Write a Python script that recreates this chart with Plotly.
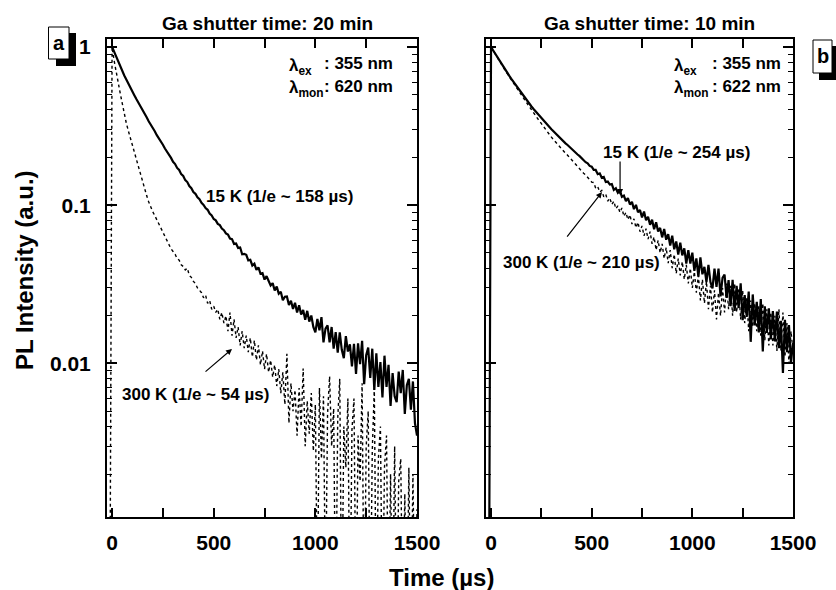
import plotly.graph_objects as go

W, H = 836, 590
FONT = "Arial, Liberation Sans, sans-serif"

# time grid (µs)
time_us = list(range(-10, 1510, 10))

# Panel a (Ga shutter 20 min)
a_15K = [None,
    1.00, 0.93, 0.862, 0.803, 0.744, 0.702, 0.660, 0.623, 0.585, 0.553,
    0.519, 0.494, 0.467, 0.445, 0.420, 0.400, 0.377, 0.360, 0.339, 0.324,
    0.305, 0.293, 0.277, 0.266, 0.251, 0.241, 0.228, 0.219, 0.207, 0.199,
    0.188, 0.182, 0.172, 0.167, 0.157, 0.153, 0.144, 0.140, 0.132, 0.128,
    0.121, 0.118, 0.112, 0.109, 0.1035, 0.1005, 0.0960, 0.0935, 0.0885, 0.0862,
    0.0818, 0.0802, 0.0762, 0.0748, 0.0712, 0.0695, 0.0664, 0.0652, 0.0615, 0.0610,
    0.0569, 0.0572, 0.0537, 0.0540, 0.0490, 0.0493, 0.0486, 0.0448, 0.0452, 0.0416,
    0.0427, 0.0390, 0.0405, 0.0369, 0.0372, 0.0339, 0.0356, 0.0331, 0.0311, 0.0322,
    0.0289, 0.0306, 0.0276, 0.0284, 0.0251, 0.0264, 0.0265, 0.0234, 0.0249, 0.0221,
    0.0242, 0.0210, 0.0233, 0.0204, 0.0218, 0.0189, 0.0215, 0.0184, 0.0201, 0.0170,
    0.0157, 0.0191, 0.0162, 0.0196, 0.0136, 0.0166, 0.0174, 0.0136, 0.0170, 0.0124,
    0.0158, 0.0117, 0.0157, 0.0122, 0.0108, 0.0149, 0.0119, 0.0132, 0.0096, 0.0133,
    0.0086, 0.0134, 0.0099, 0.0139, 0.0074, 0.0113, 0.0126, 0.0081, 0.0124, 0.0068,
    0.0116, 0.0071, 0.0102, 0.0061, 0.0112, 0.0071, 0.0098, 0.0054, 0.0087, 0.0062,
    0.0057, 0.0089, 0.0065, 0.0091, 0.0048, 0.0073, 0.0080, 0.0051, 0.0077, 0.0042,
    0.0035]

a_300K = [0.0004,
    1.0, 0.82, 0.69, 0.60, 0.51, 0.44, 0.37, 0.33, 0.295, 0.265,
    0.24, 0.213, 0.192, 0.172, 0.155, 0.138, 0.126, 0.115, 0.105, 0.097,
    0.091, 0.086, 0.081, 0.076, 0.071, 0.068, 0.063, 0.060, 0.056, 0.053,
    0.051, 0.049, 0.046, 0.045, 0.042, 0.041, 0.039, 0.040, 0.036, 0.035,
    0.033, 0.032, 0.030, 0.029, 0.028, 0.026, 0.027, 0.024, 0.025, 0.022,
    0.023, 0.021, 0.022, 0.019, 0.021, 0.018, 0.020, 0.016, 0.021, 0.015,
    0.019, 0.0145, 0.017, 0.013, 0.016, 0.0125, 0.015, 0.0118, 0.0145, 0.011,
    0.014, 0.0105, 0.013, 0.0098, 0.012, 0.0092, 0.0115, 0.0088, 0.0105, 0.0082,
    0.0098, 0.0072, 0.0092, 0.0065, 0.0088, 0.0055, 0.0115, 0.0042, 0.0075, 0.0050,
    0.0068, 0.0035, 0.0070, 0.0040, 0.0093, 0.0030, 0.0058, 0.0036, 0.0065, 0.0028,
    0.0055, 0.0003, 0.0070, 0.0025, 0.0062, 0.0003, 0.0048, 0.0083, 0.0030, 0.0052,
    0.0002, 0.0045, 0.0080, 0.0002, 0.0040, 0.0022, 0.0060, 0.0002, 0.0038, 0.0060,
    0.0002, 0.0035, 0.0018, 0.0075, 0.0002, 0.0030, 0.0050, 0.0002, 0.0028, 0.0070,
    0.0002, 0.0025, 0.0040, 0.0002, 0.0022, 0.0035, 0.0002, 0.0020, 0.0002, 0.0030,
    0.0002, 0.0018, 0.0025, 0.0002, 0.0015, 0.0002, 0.0022, 0.0002, 0.0020, 0.0002,
    0.0012]

# Panel b (Ga shutter 10 min)
b_15K = [0.0003,
    1.0, 0.953, 0.908, 0.865, 0.824, 0.785, 0.752, 0.719, 0.689, 0.659,
    0.631, 0.605, 0.581, 0.557, 0.535, 0.513, 0.493, 0.474, 0.456, 0.438,
    0.422, 0.407, 0.393, 0.380, 0.367, 0.355, 0.343, 0.333, 0.322, 0.312,
    0.302, 0.293, 0.284, 0.276, 0.268, 0.260, 0.253, 0.246, 0.240, 0.233,
    0.227, 0.221, 0.215, 0.209, 0.204, 0.198, 0.194, 0.187, 0.184, 0.177,
    0.175, 0.167, 0.167, 0.157, 0.159, 0.149, 0.151, 0.140, 0.141, 0.135,
    0.136, 0.125, 0.128, 0.120, 0.124, 0.113, 0.115, 0.106, 0.111, 0.101,
    0.105, 0.0944, 0.1005, 0.0903, 0.0933, 0.0838, 0.0911, 0.0803, 0.0846, 0.0752,
    0.0809, 0.0705, 0.0781, 0.0682, 0.0719, 0.0626, 0.0707, 0.0605, 0.0657, 0.0556,
    0.0641, 0.0526, 0.0590, 0.0488, 0.0580, 0.0482, 0.0534, 0.0428, 0.0520, 0.0428,
    0.0501, 0.0385, 0.0461, 0.0354, 0.0468, 0.0366, 0.0408, 0.0327, 0.0419, 0.0327,
    0.0298, 0.0398, 0.0305, 0.0397, 0.0265, 0.0348, 0.0365, 0.0260, 0.0336, 0.0230,
    0.0338, 0.0215, 0.0309, 0.0224, 0.0321, 0.0188, 0.0270, 0.0197, 0.0285, 0.0137,
    0.0273, 0.0174, 0.0245, 0.0157, 0.0255, 0.0119, 0.0230, 0.0156, 0.0223, 0.0142,
    0.0214, 0.0138, 0.0213, 0.0125, 0.0186, 0.0087, 0.0189, 0.0118, 0.0175, 0.0101,
    0.0135]

b_300K = [None,
    1.0, 0.95, 0.905, 0.862, 0.820, 0.777, 0.744, 0.711, 0.680, 0.650,
    0.618, 0.592, 0.568, 0.544, 0.522, 0.498, 0.477, 0.458, 0.438, 0.420,
    0.401, 0.385, 0.370, 0.355, 0.341, 0.327, 0.314, 0.303, 0.291, 0.280,
    0.269, 0.260, 0.251, 0.243, 0.234, 0.226, 0.219, 0.213, 0.207, 0.200,
    0.193, 0.187, 0.181, 0.175, 0.170, 0.164, 0.159, 0.155, 0.150, 0.145,
    0.140, 0.139, 0.128, 0.131, 0.121, 0.124, 0.113, 0.117, 0.106, 0.111,
    0.101, 0.106, 0.095, 0.099, 0.090, 0.096, 0.085, 0.090, 0.081, 0.087,
    0.076, 0.082, 0.072, 0.078, 0.068, 0.074, 0.064, 0.071, 0.061, 0.068,
    0.057, 0.063, 0.052, 0.060, 0.050, 0.057, 0.046, 0.054, 0.043, 0.052,
    0.040, 0.049, 0.037, 0.046, 0.036, 0.044, 0.034, 0.042, 0.032, 0.040,
    0.030, 0.038, 0.028, 0.036, 0.025, 0.034, 0.024, 0.033, 0.022, 0.031,
    0.021, 0.029, 0.019, 0.028, 0.020, 0.030, 0.021, 0.032, 0.022, 0.031,
    0.020, 0.032, 0.021, 0.030, 0.019, 0.029, 0.018, 0.026, 0.016, 0.025,
    0.017, 0.024, 0.016, 0.023, 0.015, 0.024, 0.014, 0.022, 0.013, 0.021,
    0.013, 0.020, 0.012, 0.022, 0.012, 0.021, 0.011, 0.018, 0.010, 0.016,
    0.012]

x_ticks = [0, 500, 1000, 1500]
y_ticks = [0.01, 0.1, 1]
y_ticktext = ["0.01", "0.1", "1"]
y_minor = [k * d for d in (0.001, 0.01, 0.1) for k in range(2, 10)]

titles = ["Ga shutter time: 20 min", "Ga shutter time: 10 min"]


def px(x):
    return x / W


def py(y):
    return 1 - y / H


fig = go.Figure()
fig.add_trace(go.Scatter(x=time_us, y=a_300K, mode="lines",
                         line=dict(color="black", width=1.4, dash="dot"),
                         xaxis="x", yaxis="y", showlegend=False))
fig.add_trace(go.Scatter(x=time_us, y=a_15K, mode="lines",
                         line=dict(color="black", width=2.2),
                         xaxis="x", yaxis="y", showlegend=False))
fig.add_trace(go.Scatter(x=time_us, y=b_300K, mode="lines",
                         line=dict(color="black", width=1.4, dash="dot"),
                         xaxis="x2", yaxis="y2", showlegend=False))
fig.add_trace(go.Scatter(x=time_us, y=b_15K, mode="lines",
                         line=dict(color="black", width=2.2),
                         xaxis="x2", yaxis="y2", showlegend=False))

tickfont = dict(family=FONT, size=21, color="black", weight="bold")


def xaxis_def(dom, anchor):
    return dict(domain=dom, anchor=anchor, range=[-25, 1500], tickmode="array", tickvals=x_ticks,
                ticks="inside", ticklen=9, tickwidth=1.5, tickcolor="black",
                showline=True, linecolor="black", linewidth=2, mirror="ticks",
                showgrid=False, zeroline=False, tickfont=tickfont,
                ticklabelstandoff=6,
                minor=dict(tickmode="linear", tick0=250, dtick=500, ticks="inside",
                           ticklen=9, tickwidth=1.5, tickcolor="black", showgrid=False))


def yaxis_def(anchor, labels):
    return dict(domain=[py(517), py(39)], type="log", range=[-2.97, 0.05],
                anchor=anchor, tickmode="array", tickvals=y_ticks, ticktext=y_ticktext,
                showticklabels=labels,
                ticks="inside", ticklen=10, tickwidth=1.5, tickcolor="black",
                showline=True, linecolor="black", linewidth=2, mirror="ticks",
                showgrid=False, zeroline=False, tickfont=tickfont,
                ticklabelstandoff=10,
                minor=dict(tickmode="array", tickvals=y_minor, ticks="inside",
                           ticklen=5, tickwidth=1.2, tickcolor="black", showgrid=False))


fig.update_layout(
    width=W, height=H, margin=dict(l=0, r=0, t=0, b=0, autoexpand=False),
    paper_bgcolor="white", plot_bgcolor="white",
    xaxis=xaxis_def([px(107), px(417)], "y"),
    yaxis=yaxis_def("x", True),
    xaxis2=xaxis_def([px(486), px(793)], "y2"),
    yaxis2=yaxis_def("x2", False),
)


def txt(x, y, text, size, xanchor="center", yanchor="middle", angle=0):
    return dict(xref="paper", yref="paper", x=px(x), y=py(y), text=text, textangle=angle,
                xanchor=xanchor, yanchor=yanchor, showarrow=False,
                font=dict(family=FONT, size=size, color="black", weight="bold"))


ann_font = dict(family=FONT, size=17, color="black", weight="bold")
annotations = [
    txt(267, 23, titles[0], 19),
    txt(649, 23, titles[1], 19),
    txt(24, 270, "PL Intensity (a.u.)", 24, angle=-90),
    txt(441, 577, "Time (µs)", 24),
]

# excitation / monitor wavelength labels
for xl, xc, mon in [(287, 322, "620"), (672, 710, "622")]:
    annotations.append(txt(xl, 67, "λ<sub>ex</sub>", 17, xanchor="left"))
    annotations.append(txt(xc, 64, ": 355 nm", 17, xanchor="left"))
    annotations.append(txt(xl, 89, "λ<sub>mon</sub>", 17, xanchor="left"))
    annotations.append(txt(xc, 86, ": " + mon + " nm", 17, xanchor="left"))

# curve labels (data coordinates; y in log10 units)
annotations += [
    dict(xref="x", yref="y", x=826, y=-0.942, text="15 K (1/e ~ 158 µs)", showarrow=False, font=ann_font),
    dict(xref="x", yref="y", x=408, y=-2.199, text="300 K (1/e ~ 54 µs)", showarrow=False, font=ann_font),
    dict(xref="x", yref="y", x=590, y=-1.908, ax=-28, ay=24, text="", showarrow=True,
         arrowhead=2, arrowsize=1, arrowwidth=1.2, arrowcolor="black"),
    dict(xref="x2", yref="y2", x=919, y=-0.664, text="15 K (1/e ~ 254 µs)", showarrow=False, font=ann_font),
    dict(xref="x2", yref="y2", x=641, y=-0.935, ax=0, ay=-35, text="", showarrow=True,
         arrowhead=2, arrowsize=1, arrowwidth=1.2, arrowcolor="black"),
    dict(xref="x2", yref="y2", x=447, y=-1.359, text="300 K (1/e ~ 210 µs)", showarrow=False, font=ann_font),
    dict(xref="x2", yref="y2", x=551, y=-0.917, ax=-36, ay=46, text="", showarrow=True,
         arrowhead=2, arrowsize=1, arrowwidth=1.2, arrowcolor="black"),
]

# panel letters
annotations.append(txt(58.7, 43, "a", 20))
annotations.append(txt(822.5, 56, "b", 20))

shapes = [
    dict(type="rect", xref="paper", yref="paper", x0=px(56), x1=px(76), y0=py(66), y1=py(33),
         fillcolor="black", line=dict(width=0)),
    dict(type="rect", xref="paper", yref="paper", x0=px(48.5), x1=px(69), y0=py(59), y1=py(27),
         fillcolor="white", line=dict(color="black", width=1)),
    dict(type="rect", xref="paper", yref="paper", x0=px(819), x1=px(840), y0=py(80), y1=py(46),
         fillcolor="black", line=dict(width=0)),
    dict(type="rect", xref="paper", yref="paper", x0=px(813), x1=px(832), y0=py(73), y1=py(40),
         fillcolor="white", line=dict(color="black", width=1)),
]

fig.update_layout(annotations=annotations, shapes=shapes)
fig.write_html("out.html", config={"displayModeBar": False},
               post_script="document.body.style.margin='0';document.body.style.overflow='hidden';")
